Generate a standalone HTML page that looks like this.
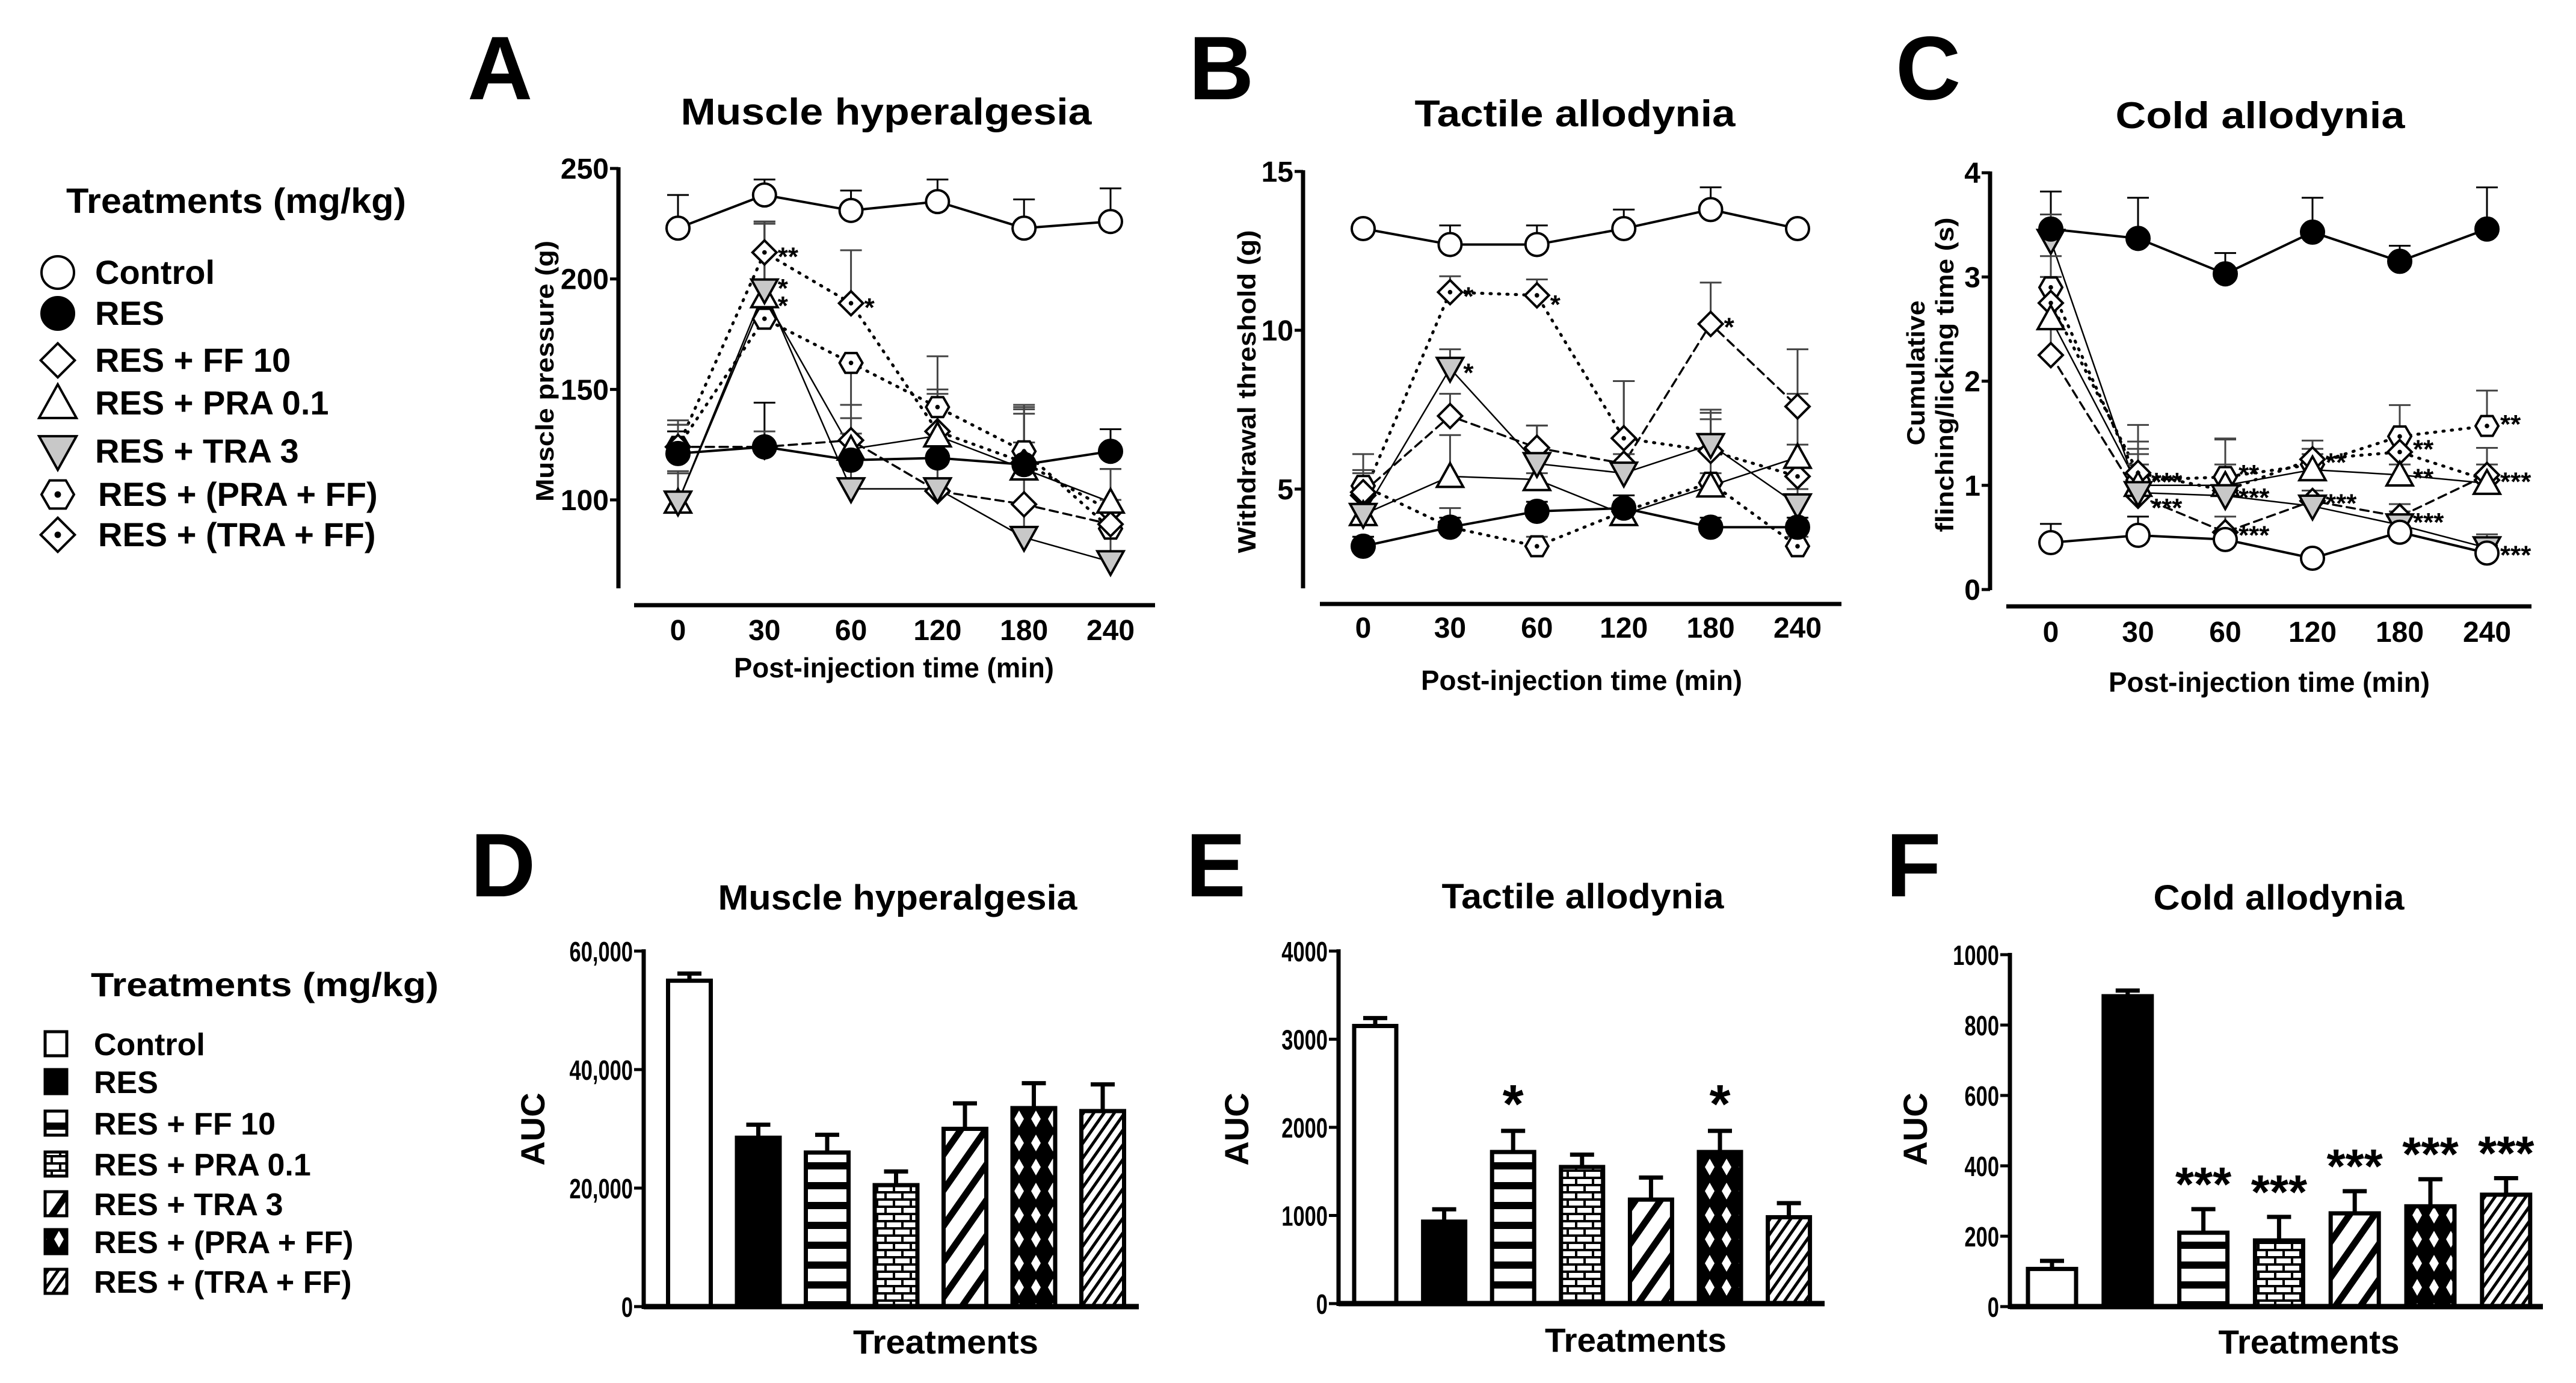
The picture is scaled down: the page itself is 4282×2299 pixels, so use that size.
<!DOCTYPE html>
<html><head><meta charset="utf-8">
<style>
html,body{margin:0;padding:0;background:#fff;}
svg{display:block;}
text{font-family:"Liberation Sans",Arial,sans-serif;font-weight:bold;fill:#000;}
</style></head>
<body>
<svg id="fig" width="4282" height="2299" viewBox="0 0 4282 2299" xmlns="http://www.w3.org/2000/svg">
<defs>
<pattern id="p-hstripe" patternUnits="userSpaceOnUse" width="20" height="33"><rect width="20" height="33" fill="#fff"/><rect y="18" width="20" height="12" fill="#000"/></pattern>
<pattern id="p-brick" patternUnits="userSpaceOnUse" width="28" height="24"><rect width="28" height="24" fill="#fff"/><rect y="0" width="28" height="4" fill="#000"/><rect y="12" width="28" height="4" fill="#000"/><rect x="0" y="0" width="4" height="12" fill="#000"/><rect x="14" y="12" width="4" height="12" fill="#000"/></pattern>
<pattern id="p-diag" patternUnits="userSpaceOnUse" width="34" height="34" patternTransform="rotate(35)"><rect width="34" height="34" fill="#fff"/><rect width="11" height="34" fill="#000"/></pattern>
<pattern id="p-cross" patternUnits="userSpaceOnUse" width="28" height="40"><rect width="28" height="40" fill="#000"/><path d="M14 6 L22 20 L14 34 L6 20 Z" fill="#fff"/></pattern>
<pattern id="p-fine" patternUnits="userSpaceOnUse" width="14" height="14" patternTransform="rotate(35)"><rect width="14" height="14" fill="#fff"/><rect width="5" height="14" fill="#000"/></pattern>
</defs>

<!-- panel letters -->
<text x="777" y="165" font-size="150">A</text>
<text x="1976" y="165" font-size="150">B</text>
<text x="3151" y="165" font-size="150">C</text>
<text x="782" y="1490" font-size="150">D</text>
<text x="1971" y="1490" font-size="150">E</text>
<text x="3135" y="1490" font-size="150">F</text>

<!-- titles -->
<text x="1473" y="207" font-size="62" text-anchor="middle" textLength="683" lengthAdjust="spacingAndGlyphs">Muscle hyperalgesia</text>
<text x="2618" y="210" font-size="62" text-anchor="middle" textLength="533" lengthAdjust="spacingAndGlyphs">Tactile allodynia</text>
<text x="3757" y="213" font-size="62" text-anchor="middle" textLength="481" lengthAdjust="spacingAndGlyphs">Cold allodynia</text>
<text x="1492" y="1512" font-size="58" text-anchor="middle" textLength="597" lengthAdjust="spacingAndGlyphs">Muscle hyperalgesia</text>
<text x="2631" y="1510" font-size="58" text-anchor="middle" textLength="469" lengthAdjust="spacingAndGlyphs">Tactile allodynia</text>
<text x="3788" y="1512" font-size="58" text-anchor="middle" textLength="417" lengthAdjust="spacingAndGlyphs">Cold allodynia</text>

<!-- axis titles -->
<text x="1486" y="1126" font-size="46" text-anchor="middle" textLength="532" lengthAdjust="spacingAndGlyphs">Post-injection time (min)</text>
<text x="2629" y="1147" font-size="46" text-anchor="middle" textLength="534" lengthAdjust="spacingAndGlyphs">Post-injection time (min)</text>
<text x="3772" y="1150" font-size="46" text-anchor="middle" textLength="534" lengthAdjust="spacingAndGlyphs">Post-injection time (min)</text>
<text transform="translate(920,617) rotate(-90)" font-size="42" text-anchor="middle" textLength="434" lengthAdjust="spacingAndGlyphs">Muscle pressure (g)</text>
<text transform="translate(2087,651) rotate(-90)" font-size="42" text-anchor="middle" textLength="537" lengthAdjust="spacingAndGlyphs">Withdrawal threshold (g)</text>
<text transform="translate(3199,620) rotate(-90)" font-size="42" text-anchor="middle" textLength="241" lengthAdjust="spacingAndGlyphs">Cumulative</text>
<text transform="translate(3247,623) rotate(-90)" font-size="42" text-anchor="middle" textLength="523" lengthAdjust="spacingAndGlyphs">flinching/licking time (s)</text>
<text x="1572" y="2250" font-size="56" text-anchor="middle" textLength="308" lengthAdjust="spacingAndGlyphs">Treatments</text>
<text x="2719" y="2247" font-size="56" text-anchor="middle" textLength="302" lengthAdjust="spacingAndGlyphs">Treatments</text>
<text x="3838" y="2250" font-size="56" text-anchor="middle" textLength="301" lengthAdjust="spacingAndGlyphs">Treatments</text>
<text transform="translate(905,1877) rotate(-90)" font-size="56" text-anchor="middle">AUC</text>
<text transform="translate(2075,1877) rotate(-90)" font-size="56" text-anchor="middle">AUC</text>
<text transform="translate(3203,1877) rotate(-90)" font-size="56" text-anchor="middle">AUC</text>

<!-- legends -->
<g id="legend-top">
<text x="110" y="354" font-size="58" textLength="565" lengthAdjust="spacingAndGlyphs">Treatments (mg/kg)</text>
</g>
<g id="legend-bottom">
<text x="151" y="1656" font-size="56" textLength="578" lengthAdjust="spacingAndGlyphs">Treatments (mg/kg)</text>
</g>
<g id="plots"></g>
</svg>
<script>
const NS='http://www.w3.org/2000/svg';
const svg=document.getElementById('fig');
const plots=document.getElementById('plots');
function mk(tag,attrs,parent){const e=document.createElementNS(NS,tag);for(const k in attrs)e.setAttribute(k,attrs[k]);(parent||plots).appendChild(e);return e;}

// ---------- data ----------
const timeLabels=['0','30','60','120','180','240'];
const seriesNames=['Control','RES','RES + FF 10','RES + PRA 0.1','RES + TRA 3','RES + (PRA + FF)','RES + (TRA + FF)'];
// Panel A: muscle pressure (g)
const aControl=[223,238,231,235,223,226];
const aRes=[121,124,118,119,116,122];
const aFF=[124,124,127,104,98,89];
const aPRA=[99,192,123,129,114,99];
const aTRA=[99,195,105,105,83,72];
const aPRAFF=[124,182,162,142,122,87];
const aTRAFF=[124,212,189,131,117,95];
const aControlErr=[238,245,240,245,236,241];
const aResErr=[131,144,128,127,126,132];
const aFFErr=[134,131,143,148,143,114];
const aPRAErr=[112,225,137,150,141,114];
const aTRAErr=[113,225,130,118,126,86];
const aPRAFFErr=[136,226,143,165,139,100];
const aTRAFFErr=[134,226,213,141,142,100];
const aTicks=[100,150,200,250];
// Panel B: withdrawal threshold (g)
const bControl=[13.2,12.7,12.7,13.2,13.8,13.2];
const bRes=[3.2,3.8,4.3,4.4,3.8,3.8];
const bFF=[4.9,7.3,6.3,5.8,10.2,7.6];
const bPRA=[4.2,5.4,5.3,4.2,5.1,6.0];
const bTRA=[4.2,8.8,5.8,5.5,6.4,4.5];
const bPRAFF=[5.1,3.8,3.2,4.3,5.2,3.2];
const bTRAFF=[4.8,11.2,11.1,6.6,6.2,5.4];
const bControlErr=[13.2,13.3,13.3,13.8,14.5,13.2];
const bResErr=[3.5,4.1,4.6,4.8,4.1,4.1];
const bFFErr=[5.6,8.0,7.0,6.1,11.5,9.4];
const bPRAErr=[4.5,6.7,5.5,4.6,5.5,6.4];
const bTRAErr=[4.5,9.4,7.0,8.4,7.2,5.0];
const bPRAFFErr=[6.1,4.4,3.5,4.6,7.4,3.5];
const bTRAFFErr=[5.5,11.7,11.6,8.4,7.5,8.0];
const bTicks=[5,10,15];
// Panel C: cumulative flinching/licking time (s)
const cControl=[0.45,0.52,0.48,0.30,0.55,0.35];
const cRes=[3.46,3.37,3.03,3.43,3.15,3.46];
const cFF=[2.25,0.90,0.55,0.85,0.70,1.10];
const cPRA=[2.6,1.0,1.0,1.15,1.1,1.02];
const cTRA=[3.35,0.93,0.90,0.80,0.62,0.40];
const cPRAFF=[2.9,1.05,1.08,1.2,1.47,1.57];
const cTRAFF=[2.75,1.12,0.95,1.25,1.32,1.05];
const cControlErr=[0.63,0.70,0.55,0.35,0.60,0.42];
const cResErr=[3.82,3.76,3.23,3.76,3.3,3.86];
const cFFErr=[2.5,1.35,0.70,0.95,0.82,1.36];
const cPRAErr=[3.0,1.42,1.2,1.43,1.2,1.1];
const cTRAErr=[3.6,1.2,1.0,0.9,0.75,0.53];
const cPRAFFErr=[3.2,1.58,1.45,1.3,1.77,1.91];
const cTRAFFErr=[3.0,1.3,1.44,1.35,1.5,1.2];
const cTicks=[0,1,2,3,4];
// Bar panels (AUC)
const barLabels=seriesNames;
const dValues=[55000,28500,26000,20500,30000,33500,33000];
const dErr=[56200,30700,29000,22800,34300,37700,37500];
const dTicks=[0,20000,40000,60000];
const dTickLabels=['0','20,000','40,000','60,000'];
const eValues=[3150,930,1720,1550,1180,1720,980];
const eErr=[3240,1070,1960,1690,1430,1960,1140];
const eTicks=[0,1000,2000,3000,4000];
const eTickLabels=['0','1000','2000','3000','4000'];
const eStars=['','','*','','','*',''];
const fValues=[107,882,210,188,265,285,318];
const fErr=[130,898,277,255,328,362,365];
const fTicks=[0,200,400,600,800,1000];
const fTickLabels=['0','200','400','600','800','1000'];
const fStars=['','','***','***','***','***','***'];

// ---------- styles ----------
const markerShapes=['circle','dot','diamond','tri','tridown','hex','dmdot'];
const lineDash=[null,null,'14,9',null,null,'2,12','2,12'];
const lineW=[4,4,3.5,2.5,2.5,5,5];
const barFills=['#fff','#000','url(#p-hstripe)','url(#p-brick)','url(#p-diag)','url(#p-cross)','url(#p-fine)'];

function marker(shape,x,y,r,parent,name){
  let e;const sw=4;
  if(shape==='circle'){e=mk('circle',{cx:x,cy:y,r:r,fill:'#fff',stroke:'#000','stroke-width':sw},parent);}
  else if(shape==='dot'){e=mk('circle',{cx:x,cy:y,r:r,fill:'#000',stroke:'#000','stroke-width':sw},parent);}
  else if(shape==='diamond'||shape==='dmdot'){const s=r*1.05;e=mk('path',{d:`M${x} ${y-s}L${x+s} ${y}L${x} ${y+s}L${x-s} ${y}Z`,fill:'#fff',stroke:'#000','stroke-width':sw},parent);}
  else if(shape==='tri'){const s=r*1.15;e=mk('path',{d:`M${x} ${y-s}L${x+s} ${y+s*0.8}L${x-s} ${y+s*0.8}Z`,fill:'#fff',stroke:'#000','stroke-width':sw},parent);}
  else if(shape==='tridown'){const s=r*1.15;e=mk('path',{d:`M${x} ${y+s}L${x+s} ${y-s*0.8}L${x-s} ${y-s*0.8}Z`,fill:'#c8c8c8',stroke:'#000','stroke-width':sw},parent);}
  else if(shape==='hex'){let d='';for(let k=0;k<6;k++){const a=Math.PI/3*k;d+=(k?'L':'M')+(x+r*Math.cos(a))+' '+(y+r*Math.sin(a));}e=mk('path',{d:d+'Z',fill:'#fff',stroke:'#000','stroke-width':sw},parent);}
  
  
  if(shape==='hex'||shape==='dmdot'){const c=mk('circle',{cx:x,cy:y,r:r*0.2,fill:'#000'},parent);
    
    }
  return e;
}
function txt(x,y,s,size,anchor,parent,name,extra){
  const t=mk('text',Object.assign({x:x,y:y,'font-size':size,'text-anchor':anchor||'start'},extra||{}),parent);
  t.textContent=s;
  
  
  return t;
}

// ---------- legends ----------
const legTop=document.getElementById('legend-top');
const legY=[453,521,599,670,750,822,889];
seriesNames.forEach((n,i)=>{
  marker(markerShapes[i],96,legY[i],27,legTop,'legend-marker-'+i);
  txt(i>=5?163:158,legY[i]+19,n,56,'start',legTop,'legend-entry-'+i);
});
const legBot=document.getElementById('legend-bottom');
const legBY=[1735,1798,1867,1935,2001,2064,2130];
seriesNames.forEach((n,i)=>{
  const r=mk('rect',{x:75,y:legBY[i]-20,width:36,height:40,fill:barFills[i],stroke:'#000','stroke-width':5},legBot);
  
  
  txt(156,legBY[i]+19,n,52,'start',legBot,'bar-legend-entry-'+i);
});

// ---------- line panels ----------
function linePanel(cfg){
  const g=mk('g',{});  
  const xs=i=>cfg.x0+i*cfg.dx;
  const ys=v=>cfg.yBase-(v-cfg.vBase)*cfg.py;
  let a=mk('line',{x1:cfg.ax,y1:cfg.yTop,x2:cfg.ax,y2:cfg.yBot,stroke:'#000','stroke-width':7},g);
  
  a=mk('line',{x1:cfg.xl,y1:cfg.xy,x2:cfg.xr,y2:cfg.xy,stroke:'#000','stroke-width':7},g);
  
  cfg.ticks.forEach((t,k)=>{
    const y=ys(t);
    const l=mk('line',{x1:cfg.ax-14,y1:y,x2:cfg.ax,y2:y,stroke:'#000','stroke-width':5},g);
    
    txt(cfg.ax-16,y+17,String(t),48,'end',g,cfg.id+'-y-tick-label');
  });
  timeLabels.forEach((s,i)=>txt(xs(i),cfg.xlabY,s,48,'middle',g,cfg.id+'-x-tick-label'));
  cfg.series.forEach((s,si)=>{
    const pts=s.map((v,i)=>xs(i)+','+ys(v)).join(' ');
    const p=mk('polyline',{points:pts,fill:'none',stroke:'#000','stroke-width':lineW[si],'stroke-linecap':'round','stroke-linejoin':'round'},g);
    if(lineDash[si])p.setAttribute('stroke-dasharray',lineDash[si]);
    
  });
  cfg.errs.forEach((e,si)=>{
    e.forEach((v,i)=>{
      const x=xs(i),y1=ys(cfg.series[si][i]),y2=ys(v);
      const col=(si>=2)?'#444':'#000';
      const l=mk('path',{d:`M${x} ${y1}V${y2}M${x-18} ${y2}H${x+18}`,stroke:col,'stroke-width':3,fill:'none'},g);
      
    });
  });
  [5,6,2,3,4,1,0].forEach(si=>{
    cfg.series[si].forEach((v,i)=>marker(markerShapes[si],xs(i),ys(v),19,g,cfg.id+'-point-'+si+'-'+i));
  });
  (cfg.stars||[]).forEach(st=>txt(xs(st[0])+st[2],ys(cfg.series[st[1]][st[0]])+st[3],st[4],44,'start',g,cfg.id+'-significance'));
}
linePanel({id:'panel-a',x0:1127,dx:143.8,yBase:831,vBase:100,py:3.673,ax:1028,yTop:278,yBot:978,xl:1054,xr:1920,xy:1006,xlabY:1064,
  ticks:aTicks,series:[aControl,aRes,aFF,aPRA,aTRA,aPRAFF,aTRAFF],errs:[aControlErr,aResErr,aFFErr,aPRAErr,aTRAErr,aPRAFFErr,aTRAFFErr],
  stars:[[1,6,22,22,'**'],[1,4,22,12,'*'],[1,3,22,30,'*'],[2,6,22,22,'*']]});
linePanel({id:'panel-b',x0:2266,dx:144.4,yBase:813,vBase:5,py:52.8,ax:2166,yTop:283,yBot:978,xl:2194,xr:3061,xy:1004,xlabY:1060,
  ticks:bTicks,series:[bControl,bRes,bFF,bPRA,bTRA,bPRAFF,bTRAFF],errs:[bControlErr,bResErr,bFFErr,bPRAErr,bTRAErr,bPRAFFErr,bTRAFFErr],
  stars:[[1,6,22,22,'*'],[2,6,22,30,'*'],[4,2,22,20,'*'],[1,4,22,22,'*']]});
linePanel({id:'panel-c',x0:3409,dx:145,yBase:980,vBase:0,py:173.2,ax:3308,yTop:285,yBot:981,xl:3335,xr:4208,xy:1008,xlabY:1067,
  ticks:cTicks,series:[cControl,cRes,cFF,cPRA,cTRA,cPRAFF,cTRAFF],errs:[cControlErr,cResErr,cFFErr,cPRAErr,cTRAErr,cPRAFFErr,cTRAFFErr],
  stars:[[1,6,22,30,'***'],[1,4,22,40,'***'],[2,5,22,10,'**'],[2,4,22,18,'***'],[2,2,22,20,'***'],[3,6,22,20,'**'],[3,4,22,10,'***'],[4,5,22,36,'**'],[4,3,22,20,'**'],[4,2,22,24,'***'],[5,5,22,12,'**'],[5,2,22,26,'***'],[5,0,22,18,'***']]});

// ---------- bar panels ----------
function barPanel(cfg){
  const g=mk('g',{});  
  const ys=v=>cfg.y0-v/cfg.vmax*cfg.h;
  const xs=i=>cfg.x0+i*cfg.dx;
  cfg.values.forEach((v,i)=>{
    const x=xs(i),yt=ys(v),ye=ys(cfg.err[i]);
    const l=mk('path',{d:`M${x} ${yt}V${ye}M${x-20} ${ye}H${x+20}`,stroke:'#000','stroke-width':7,fill:'none'},g);
    
    const r=mk('rect',{x:x-cfg.bw/2,y:yt,width:cfg.bw,height:cfg.y0-yt,fill:barFills[i],stroke:'#000','stroke-width':7},g);
    
    if(cfg.stars&&cfg.stars[i])txt(x,ye-14,cfg.stars[i],cfg.starSize,'middle',g,cfg.id+'-significance');
  });
  let a=mk('line',{x1:cfg.ax,y1:ys(cfg.vmax)-3,x2:cfg.ax,y2:cfg.y0+4,stroke:'#000','stroke-width':7},g);
  
  a=mk('line',{x1:cfg.ax,y1:cfg.y0,x2:cfg.xr,y2:cfg.y0,stroke:'#000','stroke-width':9},g);
  
  cfg.ticks.forEach((t,k)=>{
    const y=ys(t);
    const l=mk('line',{x1:cfg.ax-16,y1:y,x2:cfg.ax,y2:y,stroke:'#000','stroke-width':5},g);
    
    const lx=cfg.ax-18;
    txt(lx,y+17,cfg.tickLabels[k],46,'end',g,cfg.id+'-y-tick-label',{transform:`translate(${lx},0) scale(0.75,1) translate(${-lx},0)`});
  });
}
barPanel({id:'panel-d',x0:1146,dx:114.5,bw:71,y0:2172,h:591,vmax:60000,ax:1070,xr:1893,values:dValues,err:dErr,ticks:dTicks,tickLabels:dTickLabels});
barPanel({id:'panel-e',x0:2286,dx:114.6,bw:70,y0:2167,h:586,vmax:4000,ax:2225,xr:3033,values:eValues,err:eErr,ticks:eTicks,tickLabels:eTickLabels,stars:eStars,starSize:90});
barPanel({id:'panel-f',x0:3411,dx:125.8,bw:80,y0:2172,h:585,vmax:1000,ax:3341,xr:4227,values:fValues,err:fErr,ticks:fTicks,tickLabels:fTickLabels,stars:fStars,starSize:80});
</script>
</body></html>
